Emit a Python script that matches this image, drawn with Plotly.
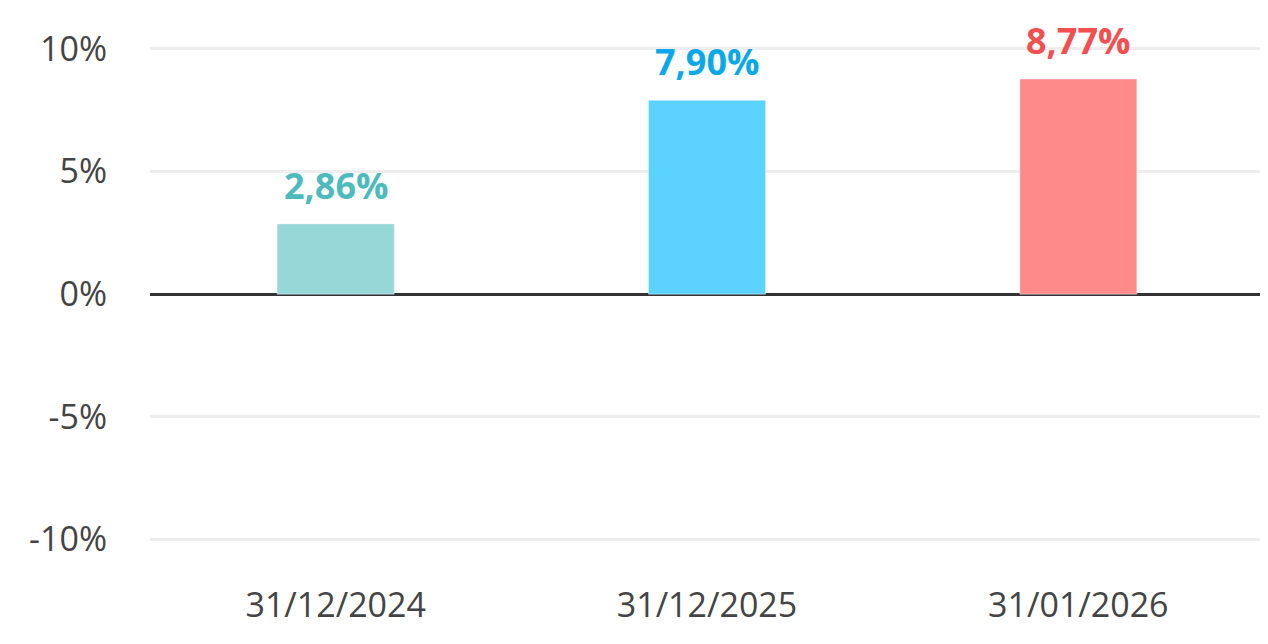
import plotly.graph_objects as go

categories = ["31/12/2024", "31/12/2025", "31/01/2026"]
values = [2.86, 7.90, 8.77]
labels = ["2,86%", "7,90%", "8,77%"]
bar_colors = ["#96d8d8", "#5cd3ff", "#ff8a8a"]
text_colors = ["#4dbbbb", "#0aa8e8", "#f25050"]
tick_vals = [-10, -5, 0, 5, 10]
tick_text = ["-10%", "-5%", "0%", "5%", "10%"]

fig = go.Figure(go.Bar(x=categories, y=values, marker_color=bar_colors, width=0.315))
for c, v, t, col in zip(categories, values, labels, text_colors):
    fig.add_annotation(x=c, y=v, text=t, showarrow=False, yanchor="bottom", yshift=12,
                       font=dict(color=col, size=36, family="Open Sans", weight="bold"))
fig.update_layout(
    width=1268, height=644, plot_bgcolor="white", paper_bgcolor="white",
    margin=dict(l=142, r=12, t=4, b=88, autoexpand=False), showlegend=False,
    font=dict(family="Open Sans", color="#444", size=34),
)
fig.update_yaxes(range=[-11, 11.5], tickvals=tick_vals, ticktext=tick_text,
                 gridcolor="#eeeeee", gridwidth=3, zeroline=True, automargin=False,
                 zerolinecolor="#333", zerolinewidth=3, ticks="", ticklabelstandoff=42)
fig.update_xaxes(showgrid=False, automargin=False, ticks="", ticklabelstandoff=18)
fig.write_html("out.html")
